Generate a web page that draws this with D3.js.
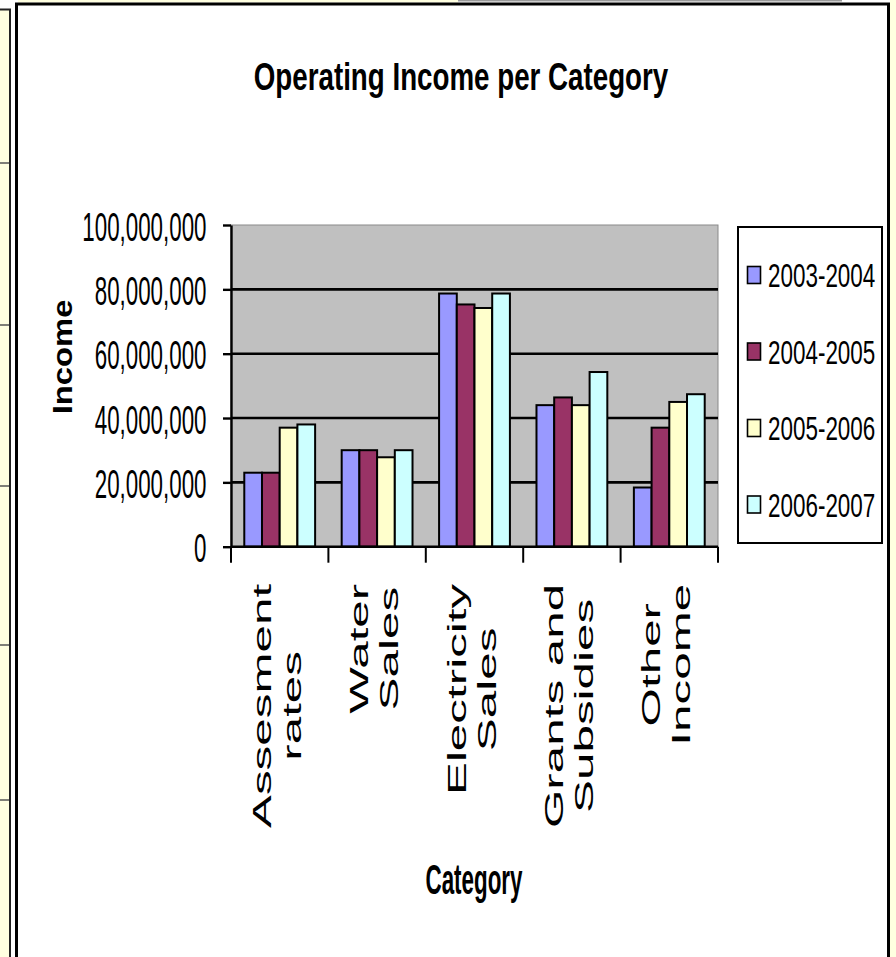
<!DOCTYPE html>
<html>
<head>
<meta charset="utf-8">
<script src="https://cdn.jsdelivr.net/npm/d3@7"></script>
<style>
  html, body { margin: 0; padding: 0; background: #fff; }
  svg { display: block; }
  text { font-family: "Liberation Sans", Arial, Helvetica, sans-serif; fill: #000; }
</style>
</head>
<body>
<svg id="chart" width="896" height="957"></svg>
<script>
// ---- data -------------------------------------------------------------
const categoryLines = [
  ["Assesment", "rates"],
  ["Water", "Sales"],
  ["Electricity", "Sales"],
  ["Grants and", "Subsidies"],
  ["Other", "Income"]
];
const categories = categoryLines.map(l => l.join(" "));
const seriesNames = ["2003-2004", "2004-2005", "2005-2006", "2006-2007"];
const income2003 = [23.0e6, 30.0e6, 78.7e6, 44.0e6, 18.4e6];
const income2004 = [23.0e6, 30.0e6, 75.3e6, 46.4e6, 37.0e6];
const income2005 = [37.0e6, 27.8e6, 74.2e6, 44.0e6, 45.0e6];
const income2006 = [38.0e6, 30.0e6, 78.7e6, 54.3e6, 47.4e6];
const yTicks = [0, 20e6, 40e6, 60e6, 80e6, 100e6];

const seriesValues = [income2003, income2004, income2005, income2006];
const seriesColors = ["#9999FF", "#993366", "#FFFFCC", "#CCFFFF"];

// ---- layout -----------------------------------------------------------
const svg = d3.select("#chart");
const W = 896, H = 957;
const plot = { left: 231, right: 718, top: 225, bottom: 546.7 };

const x = d3.scaleBand().domain(categories).range([plot.left, plot.right]).padding(0);
const xs = d3.scaleBand().domain(seriesNames).range([0, x.bandwidth()])
  .paddingInner(0).paddingOuter(0.75);
const y = d3.scaleLinear().domain([0, 100e6]).range([plot.bottom, plot.top]);
const color = d3.scaleOrdinal().domain(seriesNames).range(seriesColors);

// ---- page frame -------------------------------------------------------
const paper = "#FFFFE0";
svg.append("rect").attr("width", W).attr("height", H).attr("fill", "#fff");
svg.append("rect").attr("x", 0).attr("y", 9).attr("width", 10).attr("height", H - 9).attr("fill", paper);
svg.append("rect").attr("x", 890).attr("y", 0).attr("width", W - 890).attr("height", H).attr("fill", paper);
svg.append("rect").attr("x", 18).attr("y", 0).attr("width", 440).attr("height", 2.5).attr("fill", paper);
svg.append("rect").attr("x", 458).attr("y", 0).attr("width", 384).attr("height", 1.5).attr("fill", "#9a9a9a");
svg.selectAll("line.strip").data([163, 325, 486, 645, 800]).join("line")
  .attr("class", "strip")
  .attr("x1", 0).attr("x2", 10).attr("y1", d => d).attr("y2", d => d)
  .attr("stroke", "#555").attr("stroke-width", 1.5);
svg.append("path").attr("d", `M0,9.5H11M10,9V${H}`)
  .attr("fill", "none").attr("stroke", "#222").attr("stroke-width", 2);
svg.append("path").attr("d", `M16.5,${H}V4H888.5V${H}`)
  .attr("fill", "none").attr("stroke", "#000").attr("stroke-width", 3);

// ---- plot area --------------------------------------------------------
svg.append("rect")
  .attr("x", plot.left).attr("y", plot.top)
  .attr("width", plot.right - plot.left).attr("height", plot.bottom - plot.top)
  .attr("fill", "#C0C0C0").attr("stroke", "#8a8a8a").attr("stroke-width", 1);

svg.append("g").selectAll("line")
  .data(yTicks.filter(t => t > 0 && t < 100e6)).join("line")
  .attr("x1", plot.left).attr("x2", plot.right)
  .attr("y1", d => y(d)).attr("y2", d => y(d))
  .attr("stroke", "#000").attr("stroke-width", 2.6);

// bars
const groups = svg.append("g").selectAll("g")
  .data(categories).join("g")
  .attr("transform", d => `translate(${x(d)},0)`);
groups.selectAll("rect")
  .data((c, i) => seriesNames.map((s, k) => ({ s, v: seriesValues[k][i] })))
  .join("rect")
  .attr("x", d => xs(d.s))
  .attr("width", xs.bandwidth())
  .attr("y", d => y(d.v))
  .attr("height", d => y(0) - y(d.v))
  .attr("fill", d => color(d.s))
  .attr("stroke", "#000").attr("stroke-width", 2);

// ---- y axis -----------------------------------------------------------
const ySx = 0.545;
const yAxis = svg.append("g")
  .attr("transform", `translate(${plot.left},0)`)
  .call(d3.axisLeft(y).tickValues(yTicks).tickFormat(d3.format(",")).tickSize(8).tickSizeOuter(0));
yAxis.select(".domain").attr("stroke", "#000").attr("stroke-width", 2.4);
yAxis.selectAll(".tick line").attr("stroke", "#000").attr("stroke-width", 2.4);
yAxis.selectAll(".tick text")
  .attr("x", null).attr("dy", null)
  .attr("font-size", 41)
  .attr("font-family", "Liberation Sans, Arial, sans-serif")
  .attr("text-anchor", "end")
  .attr("transform", `translate(-24.5,15) scale(${ySx},1)`);

// ---- x axis -----------------------------------------------------------
const xAxis = svg.append("g");
xAxis.append("line")
  .attr("x1", plot.left).attr("x2", plot.right)
  .attr("y1", plot.bottom).attr("y2", plot.bottom)
  .attr("stroke", "#000").attr("stroke-width", 2.4);
const bounds = categories.map(c => x(c)).concat([x(categories[categories.length - 1]) + x.bandwidth()]);
xAxis.selectAll("line.tk").data(bounds).join("line")
  .attr("class", "tk")
  .attr("x1", d => d).attr("x2", d => d)
  .attr("y1", plot.bottom).attr("y2", plot.bottom + 16)
  .attr("stroke", "#000").attr("stroke-width", 2);

// rotated category labels, lines centred on each other, top of the longest line near the axis
const catStretch = 1.9;
categoryLines.forEach((lines, i) => {
  const cx = x(categories[i]) + x.bandwidth() / 2;
  const g = xAxis.append("g");
  const texts = lines.map((t, j) => g.append("text")
    .attr("font-size", 26)
    .attr("text-anchor", "middle")
    .text(t));
  const maxLen = d3.max(texts, t => t.node().getComputedTextLength()) * catStretch;
  const yc = plot.bottom + 37 + maxLen / 2;
  texts.forEach((t, j) => t.attr("transform",
    `translate(${cx - 9 + 30 * j},${yc}) rotate(-90) scale(${catStretch},1)`));
});

// ---- titles -----------------------------------------------------------
svg.append("text")
  .attr("text-anchor", "middle").attr("font-weight", "bold").attr("font-size", 38)
  .attr("transform", "translate(461,90) scale(0.73,1)")
  .text("Operating Income per Category");

svg.append("text")
  .attr("text-anchor", "middle").attr("font-weight", "bold").attr("font-size", 42)
  .attr("transform", "translate(474,894) scale(0.533,1)")
  .text("Category");

svg.append("text")
  .attr("text-anchor", "middle").attr("font-weight", "bold").attr("font-size", 28)
  .attr("transform", "translate(72,357) rotate(-90) scale(1.17,1)")
  .text("Income");

// ---- legend -----------------------------------------------------------
const legend = svg.append("g");
legend.append("rect")
  .attr("x", 738).attr("y", 227).attr("width", 144).attr("height", 316)
  .attr("fill", "#fff").attr("stroke", "#000").attr("stroke-width", 2);
const ly = d3.scalePoint().domain(seriesNames).range([275, 504.5]);
const items = legend.selectAll("g.item").data(seriesNames).join("g")
  .attr("class", "item")
  .attr("transform", d => `translate(0,${ly(d)})`);
items.append("rect")
  .attr("x", 747.5).attr("y", -8.5).attr("width", 13).attr("height", 17)
  .attr("fill", d => color(d)).attr("stroke", "#000").attr("stroke-width", 1.6);
items.append("text")
  .attr("font-size", 33.5)
  .attr("transform", "translate(768,12) scale(0.67,1)")
  .text(d => d);
</script>
</body>
</html>
